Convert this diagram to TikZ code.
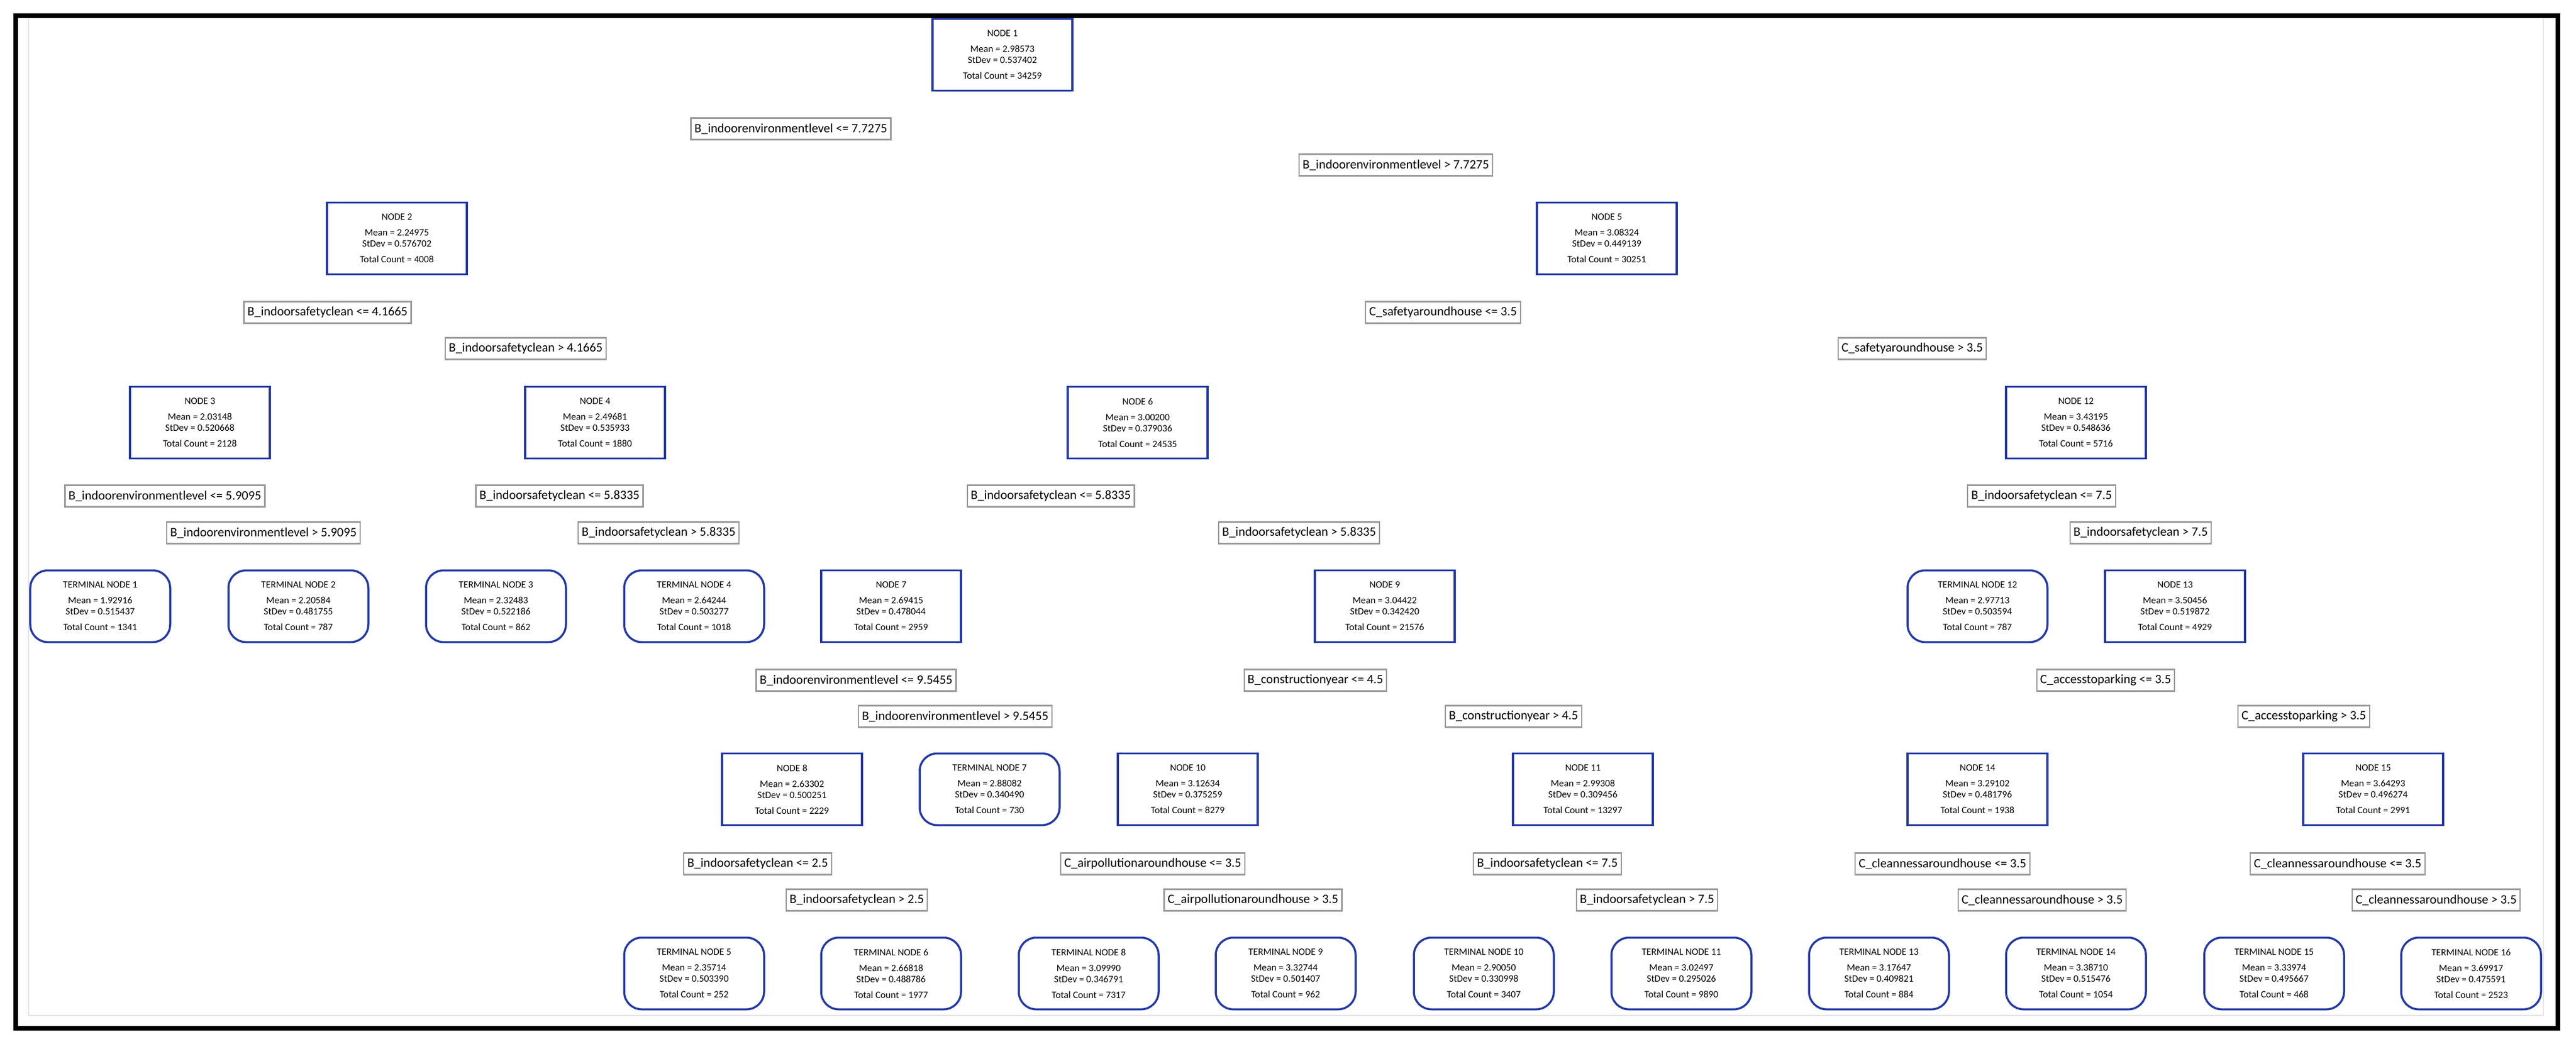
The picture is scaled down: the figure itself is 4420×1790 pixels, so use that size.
\documentclass[tikz,border=0pt]{standalone}
\usepackage{fontspec}
\setmainfont{Carlito}
\usetikzlibrary{backgrounds}
\definecolor{nblue}{HTML}{2339A6}
\definecolor{egray}{HTML}{B4B4B4}
\definecolor{lgray}{HTML}{9A9A9A}
\newcommand\ndtxt[4]{#1\\[1.6mm] Mean = #2\\ StDev = #3\\[1.6mm] Total Count = #4}
\tikzset{
 int/.style={draw=nblue, line width=0.7mm, fill=white, minimum width=48mm, minimum height=24.6mm, align=center, inner sep=0pt, font=\fontsize{9.5}{10.8}\selectfont},
 term/.style={int, rounded corners=6mm},
 lab/.style={draw=lgray, line width=0.45mm, fill=white, minimum height=7.4mm, inner xsep=1.2mm, inner ysep=0pt, font=\fontsize{12.5}{14}\selectfont},
 edge/.style={draw=egray, line width=1.6mm},
}
\begin{document}
\begin{tikzpicture}[x=0.2mm,y=-0.2mm]
\useasboundingbox (0,0) rectangle (4420,1790);
\fill[white] (0,0) rectangle (4420,1790);
\draw[gray!20, line width=0.4mm] (49,29) rectangle (4364,1742);
\draw[black, line width=1.6mm] (27,27) rectangle (4389,1764);
% internal nodes
\node[int] (n1) at (1720,94) {\ndtxt{NODE 1}{2.98573}{0.537402}{34259}};
\node[int] (n2) at (681,409) {\ndtxt{NODE 2}{2.24975}{0.576702}{4008}};
\node[int] (n5) at (2757,409) {\ndtxt{NODE 5}{3.08324}{0.449139}{30251}};
\node[int] (n3) at (343,725) {\ndtxt{NODE 3}{2.03148}{0.520668}{2128}};
\node[int] (n4) at (1021,725) {\ndtxt{NODE 4}{2.49681}{0.535933}{1880}};
\node[int] (n6) at (1952,725) {\ndtxt{NODE 6}{3.00200}{0.379036}{24535}};
\node[int] (n12) at (3562,725) {\ndtxt{NODE 12}{3.43195}{0.548636}{5716}};
\node[term] (t1) at (172,1040) {\ndtxt{TERMINAL NODE 1}{1.92916}{0.515437}{1341}};
\node[term] (t2) at (512,1040) {\ndtxt{TERMINAL NODE 2}{2.20584}{0.481755}{787}};
\node[term] (t3) at (851,1040) {\ndtxt{TERMINAL NODE 3}{2.32483}{0.522186}{862}};
\node[term] (t4) at (1191,1040) {\ndtxt{TERMINAL NODE 4}{2.64244}{0.503277}{1018}};
\node[int] (n7) at (1529,1040) {\ndtxt{NODE 7}{2.69415}{0.478044}{2959}};
\node[int] (n9) at (2376,1040) {\ndtxt{NODE 9}{3.04422}{0.342420}{21576}};
\node[term] (t12) at (3393,1040) {\ndtxt{TERMINAL NODE 12}{2.97713}{0.503594}{787}};
\node[int] (n13) at (3732,1040) {\ndtxt{NODE 13}{3.50456}{0.519872}{4929}};
\node[int] (n8) at (1359,1354) {\ndtxt{NODE 8}{2.63302}{0.500251}{2229}};
\node[term] (t7) at (1698,1354) {\ndtxt{TERMINAL NODE 7}{2.88082}{0.340490}{730}};
\node[int] (n10) at (2038,1354) {\ndtxt{NODE 10}{3.12634}{0.375259}{8279}};
\node[int] (n11) at (2716,1354) {\ndtxt{NODE 11}{2.99308}{0.309456}{13297}};
\node[int] (n14) at (3393,1354) {\ndtxt{NODE 14}{3.29102}{0.481796}{1938}};
\node[int] (n15) at (4072,1354) {\ndtxt{NODE 15}{3.64293}{0.496274}{2991}};
\node[term] (t5) at (1191,1670) {\ndtxt{TERMINAL NODE 5}{2.35714}{0.503390}{252}};
\node[term] (t6) at (1529,1670) {\ndtxt{TERMINAL NODE 6}{2.66818}{0.488786}{1977}};
\node[term] (t8) at (1868,1670) {\ndtxt{TERMINAL NODE 8}{3.09990}{0.346791}{7317}};
\node[term] (t9) at (2206,1670) {\ndtxt{TERMINAL NODE 9}{3.32744}{0.501407}{962}};
\node[term] (t10) at (2546,1670) {\ndtxt{TERMINAL NODE 10}{2.90050}{0.330998}{3407}};
\node[term] (t11) at (2885,1670) {\ndtxt{TERMINAL NODE 11}{3.02497}{0.295026}{9890}};
\node[term] (t13) at (3224,1670) {\ndtxt{TERMINAL NODE 13}{3.17647}{0.409821}{884}};
\node[term] (t14) at (3562,1670) {\ndtxt{TERMINAL NODE 14}{3.38710}{0.515476}{1054}};
\node[term] (t15) at (3902,1670) {\ndtxt{TERMINAL NODE 15}{3.33974}{0.495667}{468}};
\node[term] (t16) at (4240,1670) {\ndtxt{TERMINAL NODE 16}{3.69917}{0.475591}{2523}};
% split labels
\node[lab] (l1a) at (1357,221) {B\_indoorenvironmentlevel <= 7.7275};
\node[lab] (l1b) at (2395,283) {B\_indoorenvironmentlevel > 7.7275};
\node[lab] (l2a) at (562,536) {B\_indoorsafetyclean <= 4.1665};
\node[lab] (l2b) at (902,598) {B\_indoorsafetyclean > 4.1665};
\node[lab] (l5a) at (2476,536) {C\_safetyaroundhouse <= 3.5};
\node[lab] (l5b) at (3281,598) {C\_safetyaroundhouse > 3.5};
\node[lab] (l3a) at (283,851) {B\_indoorenvironmentlevel <= 5.9095};
\node[lab] (l3b) at (452,914) {B\_indoorenvironmentlevel > 5.9095};
\node[lab] (l4a) at (960,851) {B\_indoorsafetyclean <= 5.8335};
\node[lab] (l4b) at (1130,914) {B\_indoorsafetyclean > 5.8335};
\node[lab] (l6a) at (1803,851) {B\_indoorsafetyclean <= 5.8335};
\node[lab] (l6b) at (2229,914) {B\_indoorsafetyclean > 5.8335};
\node[lab] (l12a) at (3503,851) {B\_indoorsafetyclean <= 7.5};
\node[lab] (l12b) at (3673,914) {B\_indoorsafetyclean > 7.5};
\node[lab] (l7a) at (1469,1167) {B\_indoorenvironmentlevel <= 9.5455};
\node[lab] (l7b) at (1639,1229) {B\_indoorenvironmentlevel > 9.5455};
\node[lab] (l9a) at (2257,1167) {B\_constructionyear <= 4.5};
\node[lab] (l9b) at (2597,1229) {B\_constructionyear > 4.5};
\node[lab] (l13a) at (3613,1167) {C\_accesstoparking <= 3.5};
\node[lab] (l13b) at (3953,1229) {C\_accesstoparking > 3.5};
\node[lab] (l8a) at (1300,1482) {B\_indoorsafetyclean <= 2.5};
\node[lab] (l8b) at (1470,1544) {B\_indoorsafetyclean > 2.5};
\node[lab] (l10a) at (1978,1482) {C\_airpollutionaroundhouse <= 3.5};
\node[lab] (l10b) at (2150,1544) {C\_airpollutionaroundhouse > 3.5};
\node[lab] (l11a) at (2655,1482) {B\_indoorsafetyclean <= 7.5};
\node[lab] (l11b) at (2826,1544) {B\_indoorsafetyclean > 7.5};
\node[lab] (l14a) at (3333,1482) {C\_cleannessaroundhouse <= 3.5};
\node[lab] (l14b) at (3504,1544) {C\_cleannessaroundhouse > 3.5};
\node[lab] (l15a) at (4011,1482) {C\_cleannessaroundhouse <= 3.5};
\node[lab] (l15b) at (4180,1544) {C\_cleannessaroundhouse > 3.5};
% edges
\begin{scope}[on background layer]
\fill[white] (0,0) rectangle (4420,1790);
\newcommand\edg[3]{\draw[edge] ([xshift=-#3]#1.south) -- ([xshift=#3]#2.north); \draw[edge] ([xshift=#3]#1.south) -- ([xshift=-#3]#2.north);}
\newcommand\ed[4]{\draw[edge] ([xshift=#4]#1.south) -- ([xshift=-#4]#2.north);}
\ed{n1}{n2}{}{-8mm} \ed{n1}{n5}{}{8mm}
\ed{n2}{n3}{}{-2.5mm} \ed{n2}{n4}{}{2.5mm}
\ed{n5}{n6}{}{-5mm} \ed{n5}{n12}{}{5mm}
\ed{n3}{t1}{}{-1.5mm} \ed{n3}{t2}{}{1.5mm}
\ed{n4}{t3}{}{-1.5mm} \ed{n4}{t4}{}{1.5mm}
\ed{n6}{n7}{}{-3mm} \ed{n6}{n9}{}{3mm}
\ed{n12}{t12}{}{-1.5mm} \ed{n12}{n13}{}{1.5mm}
\ed{n7}{n8}{}{-1.5mm} \ed{n7}{t7}{}{1.5mm}
\ed{n9}{n10}{}{-2.5mm} \ed{n9}{n11}{}{2.5mm}
\ed{n13}{n14}{}{-2.5mm} \ed{n13}{n15}{}{2.5mm}
\ed{n8}{t5}{}{-1.5mm} \ed{n8}{t6}{}{1.5mm}
\ed{n10}{t8}{}{-1.5mm} \ed{n10}{t9}{}{1.5mm}
\ed{n11}{t10}{}{-1.5mm} \ed{n11}{t11}{}{1.5mm}
\ed{n14}{t13}{}{-1.5mm} \ed{n14}{t14}{}{1.5mm}
\ed{n15}{t15}{}{-1.5mm} \ed{n15}{t16}{}{1.5mm}
\end{scope}
\end{tikzpicture}
\end{document}
